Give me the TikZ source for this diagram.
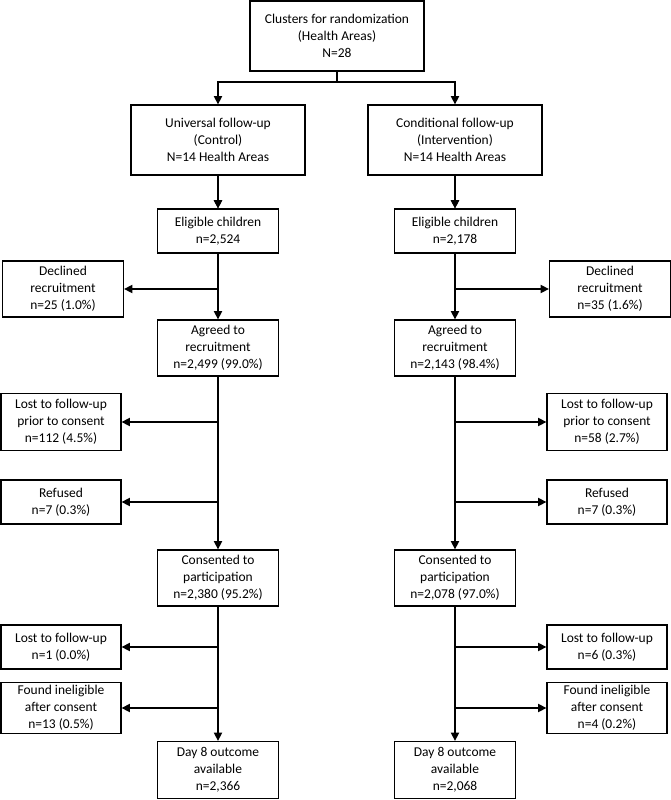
\documentclass[tikz,border=0pt]{standalone}
\usepackage{fontspec}
\setmainfont{Carlito}
\usetikzlibrary{arrows.meta}
\tikzset{
  box/.style={draw, line width=1.1pt, align=center, inner sep=0pt, font=\fontsize{11.5}{14.5}\selectfont},
  flow/.style={line width=1.1pt, -{Triangle[width=7pt,length=7pt]}},
}
\begin{document}
\begin{tikzpicture}[x=0.03cm, y=-0.03cm]
\useasboundingbox (0,0) rectangle (671,800);
\node[box, minimum width=174*0.03cm, minimum height=70*0.03cm] (clusters) at (337,36) {Clusters for randomization\\(Health Areas)\\N=28};
\node[box, minimum width=174*0.03cm, minimum height=70*0.03cm] (univ) at (218,140) {Universal follow-up\\(Control)\\N=14 Health Areas};
\node[box, minimum width=174*0.03cm, minimum height=70*0.03cm] (cond) at (455,140) {Conditional follow-up\\(Intervention)\\N=14 Health Areas};
\node[box, minimum width=121*0.03cm, minimum height=44*0.03cm] (eligL) at (218,231) {Eligible children\\n=2,524};
\node[box, minimum width=121*0.03cm, minimum height=44*0.03cm] (eligR) at (455,231) {Eligible children\\n=2,178};
\node[box, minimum width=121*0.03cm, minimum height=56*0.03cm] (declL) at (63,289) {Declined\\recruitment\\n=25 (1.0\%)};
\node[box, minimum width=121*0.03cm, minimum height=56*0.03cm] (declR) at (610,289) {Declined\\recruitment\\n=35 (1.6\%)};
\node[box, minimum width=121*0.03cm, minimum height=56*0.03cm] (agrL) at (218,348) {Agreed to\\recruitment\\n=2,499 (99.0\%)};
\node[box, minimum width=121*0.03cm, minimum height=56*0.03cm] (agrR) at (455,348) {Agreed to\\recruitment\\n=2,143 (98.4\%)};
\node[box, minimum width=120*0.03cm, minimum height=57*0.03cm] (lostpL) at (61,422) {Lost to follow-up\\prior to consent\\n=112 (4.5\%)};
\node[box, minimum width=120*0.03cm, minimum height=57*0.03cm] (lostpR) at (607,422) {Lost to follow-up\\prior to consent\\n=58 (2.7\%)};
\node[box, minimum width=120*0.03cm, minimum height=44*0.03cm] (refL) at (61,502) {Refused\\n=7 (0.3\%)};
\node[box, minimum width=120*0.03cm, minimum height=44*0.03cm] (refR) at (607,502) {Refused\\n=7 (0.3\%)};
\node[box, minimum width=121*0.03cm, minimum height=56*0.03cm] (consL) at (218,578) {Consented to\\participation\\n=2,380 (95.2\%)};
\node[box, minimum width=121*0.03cm, minimum height=56*0.03cm] (consR) at (455,578) {Consented to\\participation\\n=2,078 (97.0\%)};
\node[box, minimum width=120*0.03cm, minimum height=44*0.03cm] (lostL) at (61,647) {Lost to follow-up\\n=1 (0.0\%)};
\node[box, minimum width=120*0.03cm, minimum height=44*0.03cm] (lostR) at (607,647) {Lost to follow-up\\n=6 (0.3\%)};
\node[box, minimum width=120*0.03cm, minimum height=51*0.03cm] (inelL) at (61,708) {Found ineligible\\after consent\\n=13 (0.5\%)};
\node[box, minimum width=120*0.03cm, minimum height=51*0.03cm] (inelR) at (607,708) {Found ineligible\\after consent\\n=4 (0.2\%)};
\node[box, minimum width=121*0.03cm, minimum height=57*0.03cm] (dayL) at (218,770) {Day 8 outcome\\available\\n=2,366};
\node[box, minimum width=121*0.03cm, minimum height=57*0.03cm] (dayR) at (455,770) {Day 8 outcome\\available\\n=2,068};

% split into arms
\coordinate (split) at (337,82);
\draw[line width=1.1pt] (clusters.south) -- (split);
\draw[flow] (split) -| (univ.north);
\draw[flow] (split) -| (cond.north);

% main flow
\foreach \side in {L,R} {
  \draw[flow] (univ.south -| elig\side.north) -- (elig\side.north);
  \draw[flow] (elig\side) -- (agr\side);
  \draw[flow] (agr\side) -- (cons\side);
  \draw[flow] (cons\side) -- (day\side);
}
\draw[flow] (univ) -- (eligL);
\draw[flow] (cond) -- (eligR);

% exclusions
\foreach \side/\col in {L/218,R/455} {
  \draw[flow] (\col,289) -- (decl\side);
  \draw[flow] (\col,422) -- (lostp\side);
  \draw[flow] (\col,502) -- (ref\side);
  \draw[flow] (\col,647) -- (lost\side);
  \draw[flow] (\col,708) -- (inel\side);
}
\end{tikzpicture}
\end{document}
